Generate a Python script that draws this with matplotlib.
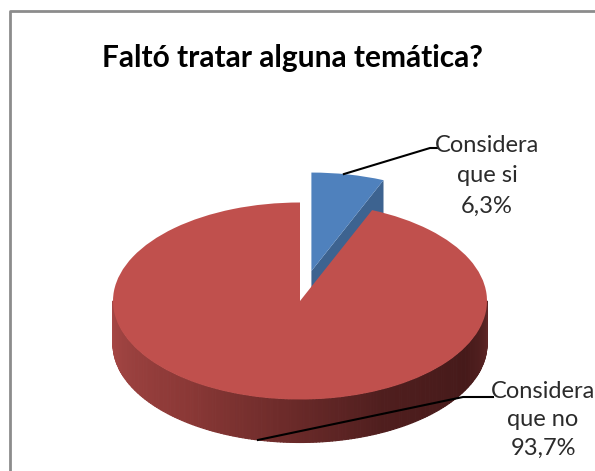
import numpy as np
import matplotlib.pyplot as plt
from matplotlib.colors import LinearSegmentedColormap
from matplotlib.collections import PolyCollection
from matplotlib.lines import Line2D

# datos del gráfico
categorias = ['Considera\nque si', 'Considera\nque no']
porcentajes = [6.3, 93.7]
etiquetas_pct = ['6,3%', '93,7%']
colores = ['#4f81bd', '#c0504d']
titulo = 'Faltó tratar alguna temática?'

W, H = 595, 471
cx, cy = 300, 301      # centro de la cara superior (px)
rx, ry = 187, 98.5     # radios de la elipse (px)
prof = 43 / ry         # grosor del pastel en unidades de datos


def px(x, y):
    # pixeles -> coordenadas de datos
    return (x - cx) / rx, (cy - y) / ry


fig = plt.figure(figsize=(W / 100, H / 100), dpi=100)
ax = fig.add_axes([0, 0, 1, 1])

cunas, _ = ax.pie(porcentajes, colors=colores, startangle=90, counterclock=False,
                  explode=[0.31, 0], radius=1, center=(0, 0))
ax.set_aspect('auto')
ax.set_xlim(-cx / rx, (W - cx) / rx)
ax.set_ylim((cy - H) / ry, cy / ry)
ax.axis('off')

azul, rojo = cunas
azul.set_zorder(3)
rojo.set_zorder(6)

# cara de corte visible de la porcion azul
bx, by = azul.center
a = np.deg2rad(azul.theta1)
cara = [(bx, by), (bx + np.cos(a), by + np.sin(a)),
        (bx + np.cos(a), by + np.sin(a) - prof), (bx, by - prof)]
ax.fill(*zip(*cara), color='#3d6390', zorder=2, lw=0)

# pared lateral de la porcion roja (frente visible, 180..360 grados)
cmap = LinearSegmentedColormap.from_list('lado', [
    (0.0, '#a84846'), (0.3, '#8a3836'), (0.65, '#4f1e1e'), (0.85, '#461a1a'), (1.0, '#5e2626')])
angs = np.deg2rad(np.linspace(180, 360, 181))
polis, cols = [], []
for i in range(len(angs) - 1):
    t0, t1 = angs[i], angs[i + 1]
    polis.append([(np.cos(t0), np.sin(t0)), (np.cos(t1), np.sin(t1)),
                  (np.cos(t1), np.sin(t1) - prof), (np.cos(t0), np.sin(t0) - prof)])
    cols.append(cmap(i / (len(angs) - 2)))
ax.add_collection(PolyCollection(polis, facecolors=cols, edgecolors=cols, linewidths=0.8, zorder=5))

# etiquetas y lineas guia
fs = 17
col_txt = '#2b2b2b'
t = np.deg2rad(80)
p0 = (bx + np.cos(t), by + np.sin(t))
codo, fin = px(430, 148), px(437, 148)
ax.plot([p0[0], codo[0], fin[0]], [p0[1], codo[1], fin[1]], color='black', lw=1.5, zorder=8)
x1, y1 = px(487, 176)
ax.text(x1, y1, categorias[0] + '\n' + etiquetas_pct[0], ha='center', va='center',
        fontsize=fs, family='Lato', color=col_txt, linespacing=1.55, zorder=9)

t = np.deg2rad(257)
p0 = (np.cos(t), np.sin(t) - prof)
codo, fin = px(463, 397), px(493, 397)
ax.plot([p0[0], codo[0], fin[0]], [p0[1], codo[1], fin[1]], color='black', lw=1.5, zorder=8)
x2, y2 = px(543, 420)
ax.text(x2, y2, categorias[1] + '\n' + etiquetas_pct[1], ha='center', va='center',
        fontsize=fs, family='Lato', color=col_txt, linespacing=1.45, zorder=9)

fig.text(292 / W, 1 - 58 / H, titulo, ha='center', va='center', fontsize=21.5,
         fontweight='bold', family='Lato', color='black')

# borde del area del grafico
fig.add_artist(Line2D([10 / W, 10 / W, 1], [0, 1 - 11 / H, 1 - 11 / H],
                      transform=fig.transFigure, color='#8c8c8c', lw=2))

plt.savefig('out.png', dpi=100)
